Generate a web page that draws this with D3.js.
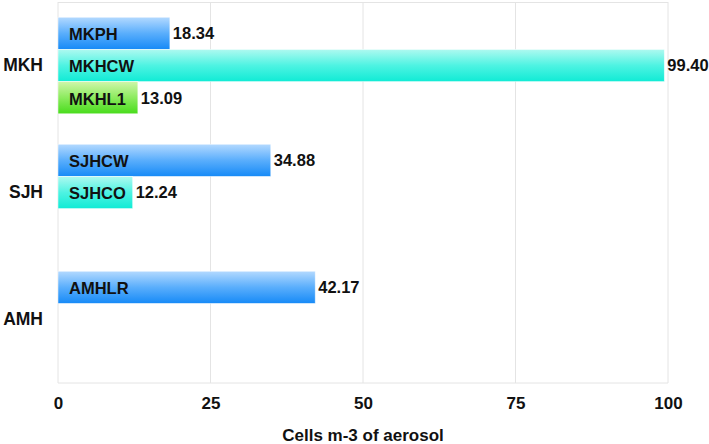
<!DOCTYPE html>
<html>
<head>
<meta charset="utf-8">
<script src="https://cdn.jsdelivr.net/npm/d3@7"></script>
<style>
  html, body { margin: 0; padding: 0; background: #fff; }
  svg { display: block; font-family: "Liberation Sans", Arial, Helvetica, sans-serif; }
</style>
</head>
<body>
<svg id="chart" width="709" height="444"></svg>
<script>
// ---- data ----
const categories = ["MKH", "SJH", "AMH"];
const barNames = [["MKPH", "MKHCW", "MKHL1"], ["SJHCW", "SJHCO"], ["AMHLR"]];
const barValues = [[18.34, 99.40, 13.09], [34.88, 12.24], [42.17]];
const xTicks = [0, 25, 50, 75, 100];
const xTitle = "Cells m-3 of aerosol";

// ---- layout ----
const svg = d3.select("#chart");
const mLeft = 58, mRight = 668, mTop = 2, mBottom = 383;

const x = d3.scaleLinear().domain([0, 100]).range([mLeft, mRight]);
const y = d3.scaleBand().domain(categories).range([mTop, mBottom]).padding(0);
const bw = y.bandwidth();
const slot = d3.scaleBand().domain([0, 1, 2]).range([bw * 0.12, bw * 0.88]).padding(0);

// gradients
const defs = svg.append("defs");
const grads = [
  ["#b3d9ff", "#5aaefc", "#168af7"],
  ["#aef9f0", "#4ef3e2", "#10ebd5"],
  ["#cff6aa", "#8ceb5e", "#48dc1c"]
];
grads.forEach((g, i) => {
  const lg = defs.append("linearGradient").attr("id", "g" + i)
    .attr("x1", 0).attr("y1", 0).attr("x2", 0).attr("y2", 1);
  lg.append("stop").attr("offset", "0%").attr("stop-color", g[0]);
  lg.append("stop").attr("offset", "50%").attr("stop-color", g[1]);
  lg.append("stop").attr("offset", "100%").attr("stop-color", g[2]);
});

// grid
const grid = svg.append("g");
grid.selectAll("line.v").data(xTicks).join("line")
  .attr("x1", d => x(d)).attr("x2", d => x(d))
  .attr("y1", mTop).attr("y2", mBottom)
  .attr("stroke", "#e4e4e4").attr("stroke-width", 1);
grid.append("line").attr("x1", mLeft).attr("x2", mRight).attr("y1", mTop + 0.5).attr("y2", mTop + 0.5)
  .attr("stroke", "#e4e4e4");
grid.append("line").attr("x1", mLeft).attr("x2", mRight).attr("y1", mBottom).attr("y2", mBottom)
  .attr("stroke", "#e4e4e4");

// bars
const flat = [];
categories.forEach((c, ci) => {
  barValues[ci].forEach((v, si) => flat.push({ cat: c, si, name: barNames[ci][si], value: v }));
});

const bars = svg.append("g");
bars.selectAll("rect").data(flat).join("rect")
  .attr("x", x(0))
  .attr("y", d => y(d.cat) + slot(d.si))
  .attr("width", d => x(d.value) - x(0))
  .attr("height", slot.bandwidth())
  .attr("fill", d => `url(#g${d.si})`)
  .attr("stroke", "rgba(255,255,255,0.6)")
  .attr("stroke-width", 0.8);

// bar names inside
bars.selectAll("text.name").data(flat).join("text")
  .attr("class", "name")
  .attr("x", x(0) + 11)
  .attr("y", d => y(d.cat) + slot(d.si) + slot.bandwidth() / 2 + 1)
  .attr("dy", "0.36em")
  .attr("font-size", 16.5).attr("font-weight", "bold").attr("fill", "#111")
  .text(d => d.name);

// values
bars.selectAll("text.val").data(flat).join("text")
  .attr("class", "val")
  .attr("x", d => x(d.value) + 3)
  .attr("y", d => y(d.cat) + slot(d.si) + slot.bandwidth() / 2)
  .attr("dy", "0.36em")
  .attr("font-size", 16.5).attr("font-weight", "bold").attr("fill", "#111")
  .text(d => d.value.toFixed(2));

// y axis labels
const yAxis = d3.axisLeft(y).tickSize(0).tickPadding(15);
const ya = svg.append("g").attr("transform", `translate(${mLeft},0)`).call(yAxis);
ya.select(".domain").remove();
ya.selectAll("text").attr("font-size", 17.5).attr("font-weight", "bold")
  .attr("fill", "#111").attr("font-family", "Liberation Sans, Arial, sans-serif");

// x axis
const xAxis = d3.axisBottom(x).tickValues(xTicks).tickSize(0).tickPadding(14).tickFormat(d3.format("d"));
const xa = svg.append("g").attr("transform", `translate(0,${mBottom})`).call(xAxis);
xa.select(".domain").remove();
xa.selectAll("text").attr("font-size", 17).attr("font-weight", "bold")
  .attr("fill", "#111").attr("font-family", "Liberation Sans, Arial, sans-serif");

// x title
svg.append("text")
  .attr("x", (mLeft + mRight) / 2).attr("y", 441)
  .attr("text-anchor", "middle")
  .attr("font-size", 17).attr("font-weight", "bold").attr("fill", "#111")
  .text(xTitle);
</script>
</body>
</html>
